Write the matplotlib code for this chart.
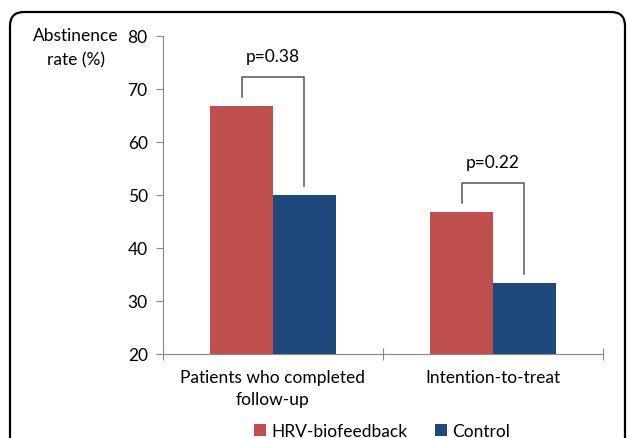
import numpy as np
import matplotlib
matplotlib.use("Agg")
import matplotlib.pyplot as plt
from matplotlib.patches import FancyBboxPatch
from matplotlib.transforms import IdentityTransform

# data
categories = ["Patients who completed\nfollow-up", "Intention-to-treat"]
hrv = [66.7, 46.7]
control = [50.0, 33.3]
p_labels = ["p=0.38", "p=0.22"]

plt.rcParams['font.family'] = ['Lato', 'DejaVu Sans']
red = "#C0504D"
blue = "#1F497D"
axgray = "#888888"
fs = 12.5

fig = plt.figure(figsize=(6.27, 4.39), dpi=100)
ax = fig.add_axes([163/627, 1-355/439, 440/627, 318.3/439])

x = np.arange(len(categories))
w = 0.286
ax.bar(x - w/2, hrv, w, color=red, label="HRV-biofeedback")
ax.bar(x + w/2, control, w, color=blue, label="Control")

ax.set_ylim(20, 80)
ax.set_xlim(-0.5, 1.5)
ax.set_yticks(range(20, 81, 10))
ax.set_xticks([-0.5, 0.5, 1.5])
ax.set_xticklabels([])
ax.set_xticks(x, minor=True)
ax.set_xticklabels(categories, minor=True, fontsize=fs, linespacing=1.45)
ax.tick_params(axis='x', which='minor', length=0, pad=11)
ax.tick_params(axis='x', which='major', color=axgray, direction='inout', length=8)
ax.tick_params(axis='y', length=5, color=axgray, labelsize=fs, pad=6)
for s in ["top", "right"]:
    ax.spines[s].set_visible(False)
for s in ["left", "bottom"]:
    ax.spines[s].set_color(axgray)

# significance brackets
for i in range(len(categories)):
    xl = x[i] - w/2
    xr = x[i] + w/2
    top = max(hrv[i], control[i]) + 5.6
    ax.plot([xl, xl, xr, xr], [hrv[i] + 1.8, top, top, control[i] + 1.7],
            color="#555555", lw=1.1)
    ax.text(x[i], top + 3.9, p_labels[i], ha='center', va='center', fontsize=fs)

fig.text(76/627, 1-48/439, "Abstinence\nrate (%)", ha='center', va='center',
         fontsize=fs, linespacing=1.6)

fig.legend(loc='center', bbox_to_anchor=(382/627, 1-432/439), ncol=2,
           frameon=False, fontsize=fs, handlelength=0.7, handleheight=0.7,
           handletextpad=0.3, columnspacing=1.6)

# rounded frame around the figure
frame = FancyBboxPatch((10, -40), 615, 426+40, boxstyle="round,pad=0,rounding_size=14",
                       transform=IdentityTransform(), fill=False, lw=1.6,
                       edgecolor="black")
fig.patches.append(frame)

fig.savefig("out.png", dpi=100)
